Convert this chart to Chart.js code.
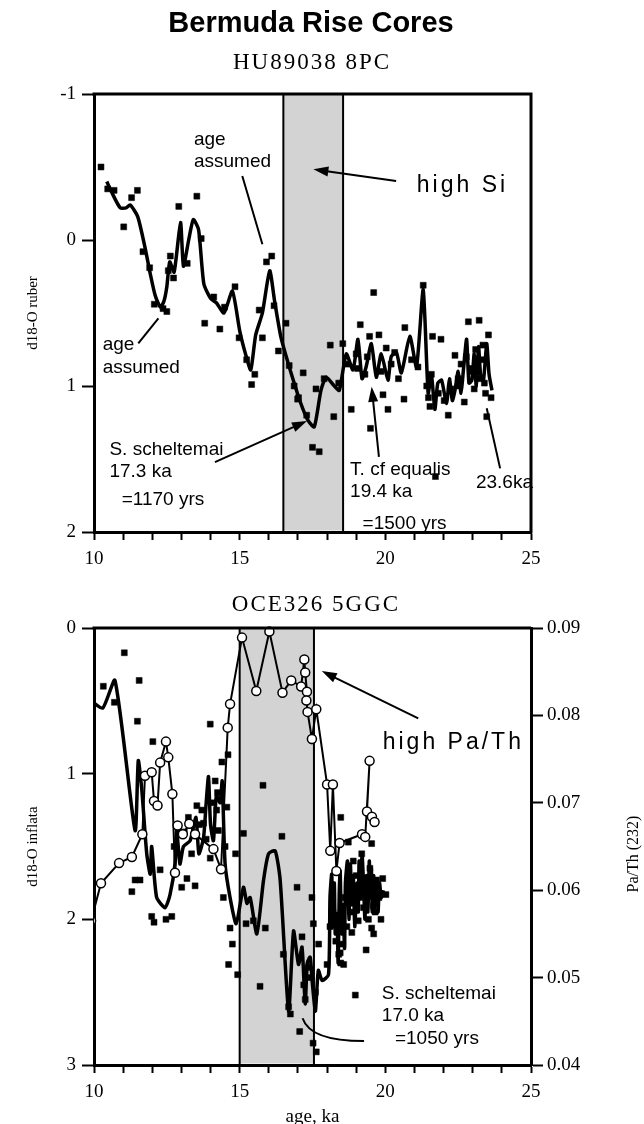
<!DOCTYPE html>
<html>
<head>
<meta charset="utf-8">
<title>Bermuda Rise Cores</title>
<script src="https://cdn.jsdelivr.net/npm/chart.js@4.4.1/dist/chart.umd.min.js"></script>
<style>
  html, body { margin: 0; padding: 0; background: #fff; overflow: hidden; }
  #wrap { position: relative; width: 644px; height: 1124px; overflow: hidden; }
  canvas { position: absolute; left: 0; }
</style>
</head>
<body>
<div id="wrap">
  <canvas id="topCanvas" width="644" height="580" style="top:0px"></canvas>
  <canvas id="botCanvas" width="644" height="560" style="top:580px"></canvas>
</div>
<script>
// ---- data ----
var ageTicks = [10, 15, 20, 25];

// HU89038 8PC, d18-O ruber (raw points)
var huAge = [10.24, 10.47, 10.69, 11.02, 11.29, 11.49, 11.68, 11.91, 12.07, 12.37, 12.5, 12.55, 12.62, 12.73,
  12.91, 13.2, 13.53, 13.68, 13.8, 14.11, 14.32, 14.48, 14.84, 14.98, 15.24, 15.41, 15.52, 15.67, 15.78,
  15.92, 16.1, 16.18, 16.33, 16.59, 16.7, 16.87, 16.99, 17.02, 17.18, 17.3, 17.5, 17.62, 17.73, 17.9,
  18.11, 18.23, 18.4, 18.54, 18.7, 18.83, 19.0, 19.14, 19.3, 19.46, 19.49, 19.6, 19.78, 19.92, 20.03,
  20.09, 20.32, 20.45, 20.64, 20.67, 20.9, 21.12, 21.3, 21.42, 21.53, 21.62, 21.72, 21.82, 21.91, 22.02,
  22.16, 22.39, 22.5, 22.6, 22.71, 22.85, 23.0, 23.1, 23.22, 23.3, 23.4, 23.48, 23.54, 23.63,
  21.48, 21.58, 22.25, 22.55, 22.78, 22.92, 23.05, 23.15, 23.26, 23.35, 23.44, 19.05, 19.38, 19.85, 20.2];
var huD18O = [-0.50, -0.35, -0.34, -0.09, -0.29, -0.34, 0.08, 0.19, 0.44, 0.47, 0.49, 0.21, 0.11, 0.26,
  -0.23, 0.16, -0.30, -0.01, 0.57, 0.39, 0.61, 0.46, 0.32, 0.67, 0.82, 0.99, 0.92, 0.48, 0.67,
  0.15, 0.11, 0.45, 0.76, 0.57, 0.86, 1.00, 1.09, 1.08, 0.91, 1.20, 1.42, 1.02, 1.45, 0.95,
  0.72, 1.21, 0.98, 0.71, 0.85, 1.16, 0.78, 0.58, 0.92, 0.66, 1.29, 0.36, 0.65, 1.06, 0.74,
  1.16, 0.77, 0.95, 1.09, 0.60, 0.82, 0.87, 0.31, 1.00, 1.14, 0.66, 1.62, 1.05, 0.68, 1.10,
  1.20, 0.79, 0.95, 0.85, 1.11, 0.56, 0.90, 0.75, 0.55, 0.82, 0.98, 1.21, 0.65, 1.08,
  1.08, 0.92, 1.02, 1.00, 0.80, 0.88, 1.02, 0.85, 0.95, 0.72, 1.05, 0.88, 0.80, 0.90, 0.85];

// HU89038 8PC, smoothed curve
var huSmoothAge = [10.44, 10.6, 10.9, 11.1, 11.24, 11.5, 11.75, 11.93, 12.1, 12.28, 12.4, 12.5, 12.6, 12.75,
  12.97, 13.07, 13.25, 13.41, 13.59, 13.77, 14.0, 14.2, 14.46, 14.75, 15.0, 15.2, 15.38, 15.55, 15.78,
  16.03, 16.2, 16.41, 16.6, 16.87, 17.1, 17.33, 17.56, 17.79, 17.97, 18.25, 18.42, 18.66, 18.89, 19.06,
  19.2, 19.34, 19.52, 19.69, 19.86, 20.09, 20.2, 20.38, 20.55, 20.84, 21.07, 21.3, 21.47, 21.58, 21.7,
  21.8, 21.93, 22.1, 22.2, 22.3, 22.39, 22.5, 22.6, 22.68, 22.79, 22.87, 22.97, 23.05, 23.12, 23.2,
  23.28, 23.37, 23.48, 23.56, 23.66];
var huSmoothD18O = [-0.40, -0.33, -0.22, -0.22, -0.24, -0.16, 0.05, 0.23, 0.38, 0.46, 0.42, 0.32, 0.15, 0.22,
  -0.12, 0.18, 0.00, -0.14, -0.07, 0.30, 0.40, 0.43, 0.50, 0.35, 0.62, 0.78, 0.89, 0.65, 0.50,
  0.21, 0.42, 0.66, 0.80, 0.98, 1.12, 1.23, 1.28, 1.03, 0.94, 1.00, 1.03, 0.78, 0.89, 0.68,
  0.95, 0.87, 0.71, 0.94, 0.78, 0.96, 0.80, 0.77, 0.91, 0.66, 0.87, 0.34, 1.05, 0.92, 1.16,
  0.98, 0.96, 1.12, 0.95, 1.10, 1.03, 0.90, 1.05, 0.89, 0.68, 0.98, 0.96, 0.78, 1.00, 0.73,
  0.95, 0.96, 0.71, 0.92, 1.03];
var huBand = [16.5, 18.55];

// OCE326 5GGC, d18-O inflata (raw points)
var oceAge = [10.32, 10.7, 11.04, 11.49, 11.55, 12.02, 11.3, 11.41, 11.58, 11.98, 12.06, 12.27, 12.47, 12.67,
  12.9, 13.01, 13.19, 13.24, 13.47, 13.53, 13.7, 13.76, 13.99, 13.99, 14.16, 14.21, 14.24, 14.27, 14.39,
  14.44, 14.56, 14.6, 14.62, 14.67, 14.75, 14.86, 14.93, 15.13, 15.22, 15.47, 15.7, 15.8, 15.88, 16.45,
  16.5, 16.68, 16.74, 16.97, 17.06, 17.14, 17.25, 17.36, 17.48, 17.52, 17.53, 17.63, 17.71, 18.0, 18.4,
  18.45, 18.47, 18.47, 18.54, 18.57, 18.73, 18.85, 18.9, 18.97, 19.07, 19.19, 19.25, 19.34, 19.53, 19.53,
  19.59, 19.6, 19.7, 19.91, 20.02,
  12.75, 13.1, 13.35, 13.62, 13.85, 14.05, 14.5, 17.2, 17.45, 17.6, 18.1, 18.2, 18.3, 18.62, 18.68,
  18.8, 19.0, 19.12, 19.3, 19.42, 19.47, 19.65, 19.78, 19.85];
var oceD18O = [0.40, 0.51, 0.17, 0.64, 0.36, 0.78, 1.81, 1.73, 1.73, 1.98, 2.02, 1.66, 2.00, 1.98,
  1.39, 1.78, 1.72, 1.30, 1.77, 1.22, 1.25, 1.34, 0.66, 1.58, 1.05, 1.25, 1.13, 1.39, 0.92,
  1.85, 1.23, 0.87, 2.31, 2.06, 2.17, 1.55, 2.38, 1.41, 2.03, 2.01, 2.46, 1.08, 2.06, 1.43,
  2.24, 2.60, 2.65, 1.78, 2.77, 2.12, 2.55, 2.33, 1.85, 2.85, 2.03, 2.91, 2.17, 2.31, 2.24,
  2.23, 1.30, 2.30, 2.17, 2.31, 1.47, 2.09, 1.60, 2.52, 2.01, 1.55, 1.92, 2.21, 1.48, 2.06,
  1.91, 2.10, 1.73, 1.72, 1.83,
  1.50, 1.40, 1.55, 1.35, 1.45, 1.20, 1.50, 2.45, 2.40, 2.50, 2.05, 1.95, 2.15, 1.85, 2.05,
  1.95, 1.70, 1.85, 1.80, 2.00, 1.65, 1.95, 1.85, 2.00];

// OCE326 5GGC, smoothed curve
var oceSmoothAge = [9.9, 10.3, 10.72, 11.41, 11.52, 11.64, 11.81, 11.93, 11.98, 12.15, 12.44, 12.61, 12.78, 12.84,
  12.95, 13.07, 13.3, 13.5, 13.6, 13.76, 13.85, 13.93, 14.0, 14.1, 14.2, 14.33, 14.4, 14.5, 14.67, 14.88,
  15.13, 15.25, 15.36, 15.59, 15.82, 15.99, 16.22, 16.39, 16.68, 16.85, 17.02, 17.14, 17.25, 17.32, 17.42,
  17.5, 17.6, 17.7, 17.83, 18.05, 18.1, 18.16, 18.2, 18.25, 18.28, 18.34, 18.38, 18.42, 18.45, 18.5,
  18.55, 18.6, 18.63, 18.7, 18.75, 18.8, 18.85, 18.9, 18.95, 19.03, 19.07, 19.1, 19.15, 19.2, 19.25,
  19.3, 19.35, 19.4, 19.45, 19.48, 19.52, 19.55, 19.6, 19.65, 19.71, 19.75, 19.8, 19.86, 19.94];
var oceSmoothD18O = [0.50, 0.55, 0.36, 1.39, 0.91, 1.11, 1.55, 1.69, 1.50, 1.85, 1.92, 1.83, 1.62, 1.39,
  1.62, 1.50, 1.46, 1.30, 1.55, 1.44, 1.20, 1.02, 1.35, 1.46, 1.15, 1.20, 1.05, 1.62, 1.85, 2.03,
  1.78, 1.89, 1.85, 2.10, 1.73, 1.55, 1.53, 1.73, 2.63, 2.08, 2.31, 2.19, 2.58, 2.30, 2.26,
  2.45, 2.63, 2.35, 2.42, 2.38, 1.85, 1.69, 2.05, 1.75, 2.10, 1.96, 2.30, 1.80, 1.67, 2.10,
  1.90, 2.20, 1.75, 1.60, 2.00, 1.62, 1.90, 1.70, 2.05, 1.75, 1.95, 1.60, 1.85, 1.55, 1.75,
  2.00, 1.70, 1.95, 1.60, 1.85, 1.65, 1.95, 1.70, 1.90, 1.73, 1.95, 1.75, 1.85, 1.80];

// OCE326 5GGC, Pa/Th (232)
var paThAge = [9.9, 10.24, 10.86, 11.3, 11.66, 11.75, 11.98, 12.06, 12.18, 12.27, 12.47, 12.55, 12.69, 12.78,
  12.87, 13.05, 13.27, 13.47, 14.1, 14.36, 14.59, 14.67, 15.08, 15.57, 16.02, 16.47, 16.77, 17.11, 17.22,
  17.25, 17.31, 17.29, 17.33, 17.48, 17.63, 18.0, 18.11, 18.2, 18.32, 18.43, 19.2, 19.31, 19.46, 19.37,
  19.54, 19.63];
var paTh = [0.0565, 0.0608, 0.0631, 0.0638, 0.0664, 0.0731, 0.0735, 0.0702, 0.0697, 0.0746, 0.0770, 0.0752, 0.0710, 0.0620,
  0.0674, 0.0664, 0.0676, 0.0664, 0.0647, 0.0624, 0.0786, 0.0813, 0.0889, 0.0828, 0.0896, 0.0826, 0.0840, 0.0833, 0.0864,
  0.0849, 0.0827, 0.0817, 0.0804, 0.0773, 0.0807, 0.0721, 0.0645, 0.0721, 0.0622, 0.0654, 0.0664, 0.0661, 0.0748, 0.0690,
  0.0684, 0.0678];
var oceBand = [15.0, 17.55];

// ---- helpers ----
var serif = '"Liberation Serif", "Times New Roman", serif';
var sans = '"Liberation Sans", Arial, sans-serif';

function pairs(xs, ys) {
  var out = [];
  for (var i = 0; i < xs.length; i++) out.push({x: xs[i], y: ys[i]});
  return out;
}

function arrowLine(ctx, x1, y1, x2, y2, head) {
  var a = Math.atan2(y2 - y1, x2 - x1);
  var ex = head ? x2 - 10 * Math.cos(a) : x2, ey = head ? y2 - 10 * Math.sin(a) : y2;
  ctx.beginPath(); ctx.moveTo(x1, y1); ctx.lineTo(ex, ey); ctx.stroke();
  if (!head) return;
  ctx.beginPath();
  ctx.moveTo(x2, y2);
  ctx.lineTo(x2 - 15 * Math.cos(a) + 5 * Math.sin(a), y2 - 15 * Math.sin(a) - 5 * Math.cos(a));
  ctx.lineTo(x2 - 15 * Math.cos(a) - 5 * Math.sin(a), y2 - 15 * Math.sin(a) + 5 * Math.cos(a));
  ctx.closePath(); ctx.fill();
}

// band, frame, titles and notes
var notesPlugin = {
  id: 'notes',
  beforeDatasetsDraw: function (chart, args, o) {
    var ctx = chart.ctx, a = chart.chartArea, xs = chart.scales.x;
    var l = xs.getPixelForValue(o.band[0]), r = xs.getPixelForValue(o.band[1]);
    ctx.save();
    ctx.fillStyle = '#d3d3d3';
    ctx.fillRect(l, a.top, r - l, a.bottom - a.top - 1.5);
    ctx.strokeStyle = '#000'; ctx.lineWidth = 2;
    ctx.beginPath();
    ctx.moveTo(l, a.top); ctx.lineTo(l, a.bottom);
    ctx.moveTo(r, a.top); ctx.lineTo(r, a.bottom);
    ctx.stroke();
    ctx.restore();
  },
  afterDatasetsDraw: function (chart, args, o) {
    var ctx = chart.ctx, a = chart.chartArea;
    var xs = chart.scales.x, ys = chart.scales.y;
    var px = function (v) { return xs.getPixelForValue(v); };
    var py = function (v) { return ys.getPixelForValue(v); };
    ctx.save();
    ctx.strokeStyle = '#000'; ctx.fillStyle = '#000';
    // frame
    ctx.lineWidth = 3;
    ctx.beginPath();
    ctx.moveTo(a.left - 1.5, a.top); ctx.lineTo(a.right, a.top);
    if (o.rightEdge) ctx.lineTo(a.right, a.bottom + 1.5);
    ctx.stroke();
    // headings
    ctx.textAlign = 'center'; ctx.textBaseline = 'middle';
    o.headings.forEach(function (h) {
      ctx.font = h.font;
      ctx.letterSpacing = h.spacing || '0px';
      ctx.fillText(h.text, h.x, h.y);
    });
    ctx.letterSpacing = '0px';
    // leader lines and arrows
    ctx.lineWidth = 2;
    o.lines.forEach(function (ln) {
      arrowLine(ctx, px(ln[0]), py(ln[1]), px(ln[2]), py(ln[3]), ln[4]);
    });
    if (o.curve) {
      var c = o.curve;
      ctx.beginPath();
      ctx.moveTo(px(c[0]), py(c[1]));
      ctx.quadraticCurveTo(px(c[2]), py(c[3]), px(c[4]), py(c[5]));
      ctx.stroke();
    }
    // notes
    ctx.textAlign = 'left';
    o.texts.forEach(function (t) {
      ctx.font = t.big ? '23px ' + sans : '19px ' + sans;
      ctx.letterSpacing = t.big ? '3px' : '0px';
      ctx.fillText(t.text, px(t.x), py(t.y));
    });
    ctx.letterSpacing = '0px';
    // rotated right-axis title
    if (o.rightTitle) {
      ctx.translate(634, 274);
      ctx.rotate(-Math.PI / 2);
      ctx.textAlign = 'center';
      ctx.font = '16px ' + serif;
      ctx.fillText(o.rightTitle, 0, 0);
    }
    ctx.restore();
  }
};

function xScale(h, titleText) {
  return {
    type: 'linear', min: 10, max: 25,
    afterFit: function (s) { s.height = h; },
    ticks: {
      stepSize: 1, autoSkip: false, maxRotation: 0, padding: 8, color: '#000',
      font: {family: serif, size: 19},
      callback: function (v) { return ageTicks.indexOf(v) >= 0 ? String(v) : ''; }
    },
    grid: {drawOnChartArea: false, drawTicks: true, tickLength: 8, tickColor: '#000', tickWidth: 2, color: '#000'},
    border: {color: '#000', width: 3},
    title: {display: !!titleText, text: titleText || '', color: '#000', font: {family: serif, size: 19}, padding: {top: 0, bottom: 12}}
  };
}

function leftScale(min, max, titleText) {
  return {
    type: 'linear', position: 'left', min: min, max: max, reverse: true,
    afterFit: function (s) { s.width = 94; },
    ticks: {stepSize: 1, padding: 6, color: '#000', font: {family: serif, size: 19}},
    grid: {drawOnChartArea: false, drawTicks: true, tickLength: 12, tickColor: '#000', tickWidth: 2, color: '#000'},
    border: {color: '#000', width: 3},
    title: {display: true, text: titleText, color: '#000', font: {family: serif, size: 15}, padding: {top: 24, bottom: 0}}
  };
}

var squareSet = function (data) {
  return {type: 'scatter', data: data, pointStyle: 'rect', pointRadius: 4.2, pointBackgroundColor: '#000',
    pointBorderColor: '#000', pointBorderWidth: 0.5, showLine: false, order: 3};
};
var curveSet = function (data) {
  return {type: 'scatter', data: data, showLine: true, borderColor: '#000', borderWidth: 3.5,
    tension: 0.2, pointRadius: 0, order: 2};
};

// ---- top panel ----
new Chart(document.getElementById('topCanvas'), {
  type: 'scatter',
  data: {
    datasets: [squareSet(pairs(huAge, huD18O)), curveSet(pairs(huSmoothAge, huSmoothD18O))]
  },
  options: {
    responsive: false, animation: false, devicePixelRatio: 1,
    layout: {padding: {top: 94, right: 113, left: 0, bottom: 0}},
    scales: {x: xScale(48), y: leftScale(-1, 2, 'd18-O ruber')},
    plugins: {
      legend: {display: false}, tooltip: {enabled: false},
      notes: {
        band: huBand, rightEdge: true,
        headings: [
          {text: 'Bermuda Rise Cores', x: 311, y: 24, font: 'bold 29px ' + sans},
          {text: 'HU89038 8PC', x: 312, y: 63, font: '23px ' + serif, spacing: '2px'}
        ],
        texts: [
          {text: 'age', x: 13.43, y: -0.685},
          {text: 'assumed', x: 13.43, y: -0.534},
          {text: 'high Si', x: 21.08, y: -0.37, big: true},
          {text: 'age', x: 10.3, y: 0.719},
          {text: 'assumed', x: 10.3, y: 0.877},
          {text: 'S. scheltemai', x: 10.53, y: 1.438},
          {text: '17.3 ka', x: 10.53, y: 1.589},
          {text: '=1170 yrs', x: 10.95, y: 1.781},
          {text: 'T. cf equalis', x: 18.79, y: 1.575},
          {text: '19.4 ka', x: 18.79, y: 1.726},
          {text: '=1500 yrs', x: 19.22, y: 1.945},
          {text: '23.6ka', x: 23.11, y: 1.664}
        ],
        lines: [
          [15.09, -0.438, 15.78, 0.029, false],
          [20.37, -0.404, 17.53, -0.484, true],
          [11.52, 0.708, 12.21, 0.536, false],
          [14.15, 1.521, 17.31, 1.240, true],
          [19.78, 1.486, 19.53, 1.005, true],
          [23.48, 1.153, 23.94, 1.564, false]
        ]
      }
    }
  },
  plugins: [notesPlugin]
});

// ---- bottom panel ----
var rightScale = {
  type: 'linear', position: 'right', min: 0.04, max: 0.09,
  afterFit: function (s) { s.width = 113; },
  ticks: {
    stepSize: 0.01, padding: 4, color: '#000', font: {family: serif, size: 19},
    callback: function (v) { return v.toFixed(2); }
  },
  grid: {drawOnChartArea: false, drawTicks: true, tickLength: 12, tickColor: '#000', tickWidth: 2, color: '#000'},
  border: {color: '#000', width: 3}
};

new Chart(document.getElementById('botCanvas'), {
  type: 'scatter',
  data: {
    datasets: [
      squareSet(pairs(oceAge, oceD18O)),
      curveSet(pairs(oceSmoothAge, oceSmoothD18O)),
      {type: 'scatter', data: pairs(paThAge, paTh), yAxisID: 'y2', showLine: true, borderColor: '#000',
        borderWidth: 2, tension: 0, pointRadius: 4.5, pointBackgroundColor: '#fff', pointBorderColor: '#000',
        pointBorderWidth: 1.5, order: 1, clip: {left: 0, top: 6, right: 6, bottom: 6}}
    ]
  },
  options: {
    responsive: false, animation: false, devicePixelRatio: 1,
    layout: {padding: {top: 48, right: 0, left: 0, bottom: 0}},
    scales: {x: xScale(75, 'age, ka'), y: leftScale(0, 3, 'd18-O inflata'), y2: rightScale},
    plugins: {
      legend: {display: false}, tooltip: {enabled: false},
      notes: {
        band: oceBand, rightEdge: false,
        headings: [
          {text: 'OCE326 5GGC', x: 316, y: 25, font: '23px ' + serif, spacing: '2px'}
        ],
        rightTitle: 'Pa/Th (232)',
        texts: [
          {text: 'high Pa/Th', x: 19.91, y: 0.785, big: true},
          {text: 'S. scheltemai', x: 19.88, y: 2.514},
          {text: '17.0 ka', x: 19.88, y: 2.663},
          {text: '=1050 yrs', x: 20.33, y: 2.82}
        ],
        lines: [
          [21.13, 0.621, 17.82, 0.296, true]
        ],
        curve: [17.16, 2.679, 17.42, 2.836, 19.27, 2.836]
      }
    }
  },
  plugins: [notesPlugin]
});
</script>
</body>
</html>
